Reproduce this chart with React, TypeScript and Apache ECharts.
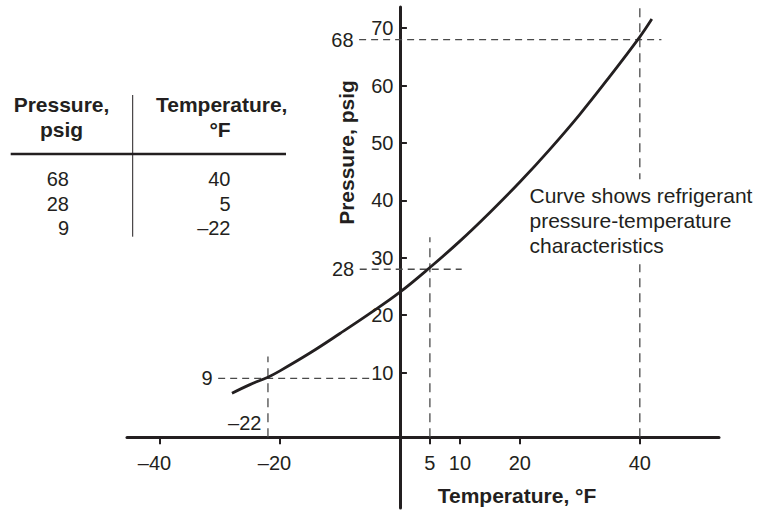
import React, { useEffect, useRef } from "react";
import * as echarts from "echarts";

// Refrigerant pressure-temperature curve
const curveTemps = [-28, -25, -22, -20, -15, -10, -5, 0, 5, 10, 15, 20, 25, 30, 35, 40, 42];
const curvePressures = [6.4, 7.9, 9.2, 10.3, 13.4, 16.8, 20.3, 24.0, 28.3, 32.9, 37.9, 43.2, 48.9, 55.0, 61.6, 68.5, 71.6];

// Axis tick labels
const xTickValues = [-40, -20, 5, 10, 20, 40];
const yTickValues = [10, 20, 30, 40, 50, 60, 70];

// Table rows
const tablePressures = [68, 28, 9];
const tableTemps = [40, 5, -22];

// Guide line extents, in data units (one per table row)
const guideVerticalTop = [73.7, 33.6, 12.8];
const guideHorizontalFrom = [-6.8, -6.7, -30.3];
const guideHorizontalTo = [43.6, 10.3, -4.6];

const X_MIN = -45.5;
const X_MAX = 53.2;
const Y_MIN = -13.6;
const Y_MAX = 73.7;
const AXIS_CROSS = -1.27; // pressure level at which the temperature axis is drawn
const TEMP_LABEL_LEVEL = 1.2; // pressure level of the off-tick temperature label

const INK = "#231f20";
const DASH = "#4a4a4a";
const FONT = '"Liberation Sans", Arial, Helvetica, sans-serif';

const fmt = (v: number) => (v < 0 ? "\u2013" + Math.abs(v) : String(v));

export default function App() {
  const ref = useRef<HTMLDivElement>(null);

  useEffect(() => {
    if (!ref.current) return;
    const chart = echarts.init(ref.current, undefined, { renderer: "svg" });

    const baseLabel = {
      show: true,
      fontSize: 20,
      fontFamily: FONT,
      fontWeight: "normal",
      color: INK,
      opacity: 1,
      formatter: (p: any) => p.name,
    };

    const guideSeries: any[] = [];
    tablePressures.forEach((p, i) => {
      const t = tableTemps[i];
      guideSeries.push({
        type: "line",
        data: [
          [t, AXIS_CROSS],
          [t, guideVerticalTop[i]],
        ],
        showSymbol: false,
        silent: true,
        z: 1,
        lineStyle: { color: DASH, width: 1.3, type: [9, 6] },
      });
      guideSeries.push({
        type: "line",
        data: [
          [guideHorizontalFrom[i], p],
          [guideHorizontalTo[i], p],
        ],
        showSymbol: false,
        silent: true,
        z: 1,
        lineStyle: { color: DASH, width: 1.3, type: [7, 5] },
      });
    });

    const labelPoints: any[] = [];
    tablePressures.forEach((p, i) => {
      labelPoints.push({
        value: [guideHorizontalFrom[i], p],
        name: String(p),
        label: { ...baseLabel, position: "left", distance: 5 },
      });
    });
    tableTemps.forEach((t) => {
      if (!xTickValues.includes(t)) {
        labelPoints.push({
          value: [t, TEMP_LABEL_LEVEL],
          name: fmt(t),
          label: { ...baseLabel, position: "left", distance: 6 },
        });
      }
    });
    // axis tick labels placed on the axes through the library's scales
    xTickValues.forEach((t) => {
      labelPoints.push({
        value: [t, AXIS_CROSS],
        name: t < 0 ? fmt(t) + "{pad|}" : fmt(t),
        label: {
          ...baseLabel,
          position: "bottom",
          distance: 15,
          rich: { pad: { width: 11, fontSize: 20 } },
        },
      });
    });
    yTickValues.forEach((v) => {
      labelPoints.push({
        value: [0, v],
        name: fmt(v),
        label: { ...baseLabel, position: "left", distance: 6 },
      });
    });

    const tableGraphics: any[] = [];
    const rowY0 = 179.2;
    const rowStep = 24.6;
    tablePressures.forEach((p, i) => {
      tableGraphics.push({
        type: "text",
        x: 69,
        y: rowY0 + i * rowStep,
        style: { text: fmt(p), fontSize: 20, fontFamily: FONT, fill: INK, align: "right", verticalAlign: "middle" },
      });
      tableGraphics.push({
        type: "text",
        x: 230.5,
        y: rowY0 + i * rowStep,
        style: { text: fmt(tableTemps[i]), fontSize: 20, fontFamily: FONT, fill: INK, align: "right", verticalAlign: "middle" },
      });
    });

    const boldText = (text: string, x: number, y: number, extra: any = {}) => ({
      type: "text",
      x,
      y,
      ...extra,
      style: {
        text,
        fontSize: 21,
        fontWeight: "bold",
        fontFamily: FONT,
        fill: INK,
        align: "center",
        verticalAlign: "middle",
      },
    });

    chart.setOption({
      animation: false,
      backgroundColor: "#ffffff",
      grid: { left: 127, right: 46, top: 7, bottom: 2, containLabel: false, outerBoundsMode: "none" },
      xAxis: {
        type: "value",
        min: X_MIN,
        max: X_MAX,
        axisLine: { onZero: true, onZeroAxisIndex: 1, lineStyle: { color: INK, width: 3 } },
        axisTick: { show: true, customValues: xTickValues, length: 7, lineStyle: { color: INK, width: 2 } },
        axisLabel: { show: false },
        splitLine: { show: false },
      },
      yAxis: [
        {
          type: "value",
          min: Y_MIN,
          max: Y_MAX,
          axisLine: { show: true, onZero: true, lineStyle: { color: INK, width: 3 } },
          axisTick: { show: true, inside: true, customValues: yTickValues, length: 7, lineStyle: { color: INK, width: 2 } },
          axisLabel: { show: false },
          splitLine: { show: false },
        },
        {
          type: "value",
          min: Y_MIN - AXIS_CROSS,
          max: Y_MAX - AXIS_CROSS,
          show: false,
          splitLine: { show: false },
        },
      ],
      series: [
        ...guideSeries,
        {
          type: "line",
          data: curveTemps.map((t, i) => [t, curvePressures[i]]),
          smooth: 0.4,
          showSymbol: false,
          silent: true,
          z: 3,
          lineStyle: { color: INK, width: 2.8 },
        },
        {
          type: "scatter",
          data: labelPoints,
          symbolSize: 1,
          silent: true,
          z: 4,
          itemStyle: { color: "rgba(255,255,255,0)" },
          label: baseLabel,
        },
      ],
      graphic: [
        // table headers
        boldText("Pressure,", 61.5, 104.8),
        boldText("psig", 61.5, 129.1),
        boldText("Temperature,", 221.7, 104.8),
        boldText("\u00b0F", 220, 129.1),
        {
          type: "line",
          shape: { x1: 10.7, y1: 154, x2: 286, y2: 154 },
          style: { stroke: INK, lineWidth: 2.5 },
        },
        {
          type: "line",
          shape: { x1: 132.7, y1: 95, x2: 132.7, y2: 236.7 },
          style: { stroke: INK, lineWidth: 1 },
        },
        ...tableGraphics,
        // axis titles
        boldText("Pressure, psig", 346.4, 152.5, { rotation: Math.PI / 2 }),
        boldText("Temperature, \u00b0F", 517, 495.6),
        // annotation
        {
          type: "text",
          x: 527.5,
          y: 179.2,
          z: 100,
          style: {
            text: "Curve shows refrigerant\npressure-temperature\ncharacteristics",
            fontSize: 21,
            lineHeight: 25,
            fontFamily: FONT,
            fill: INK,
            align: "left",
            verticalAlign: "top",
            backgroundColor: "#ffffff",
            padding: [4, 2, 6, 2],
          },
        },
      ],
    });

    return () => chart.dispose();
  }, []);

  return (
    <div
      ref={ref}
      style={{ position: "fixed", left: 0, top: 0, width: 765, height: 510, background: "#fff" }}
    />
  );
}
